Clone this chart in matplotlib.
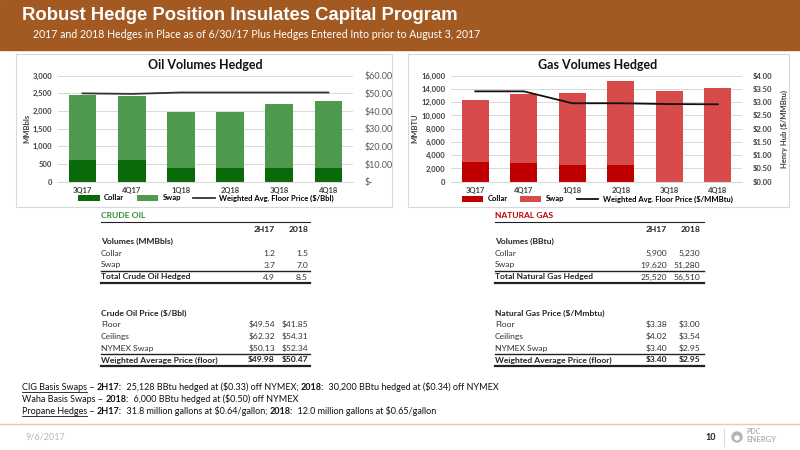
import matplotlib
matplotlib.use("Agg")
import matplotlib.pyplot as plt
from matplotlib.patches import Rectangle, Circle
from matplotlib.ticker import FuncFormatter, MultipleLocator

plt.rcParams['font.family'] = ['Lato', 'DejaVu Sans']

# ---------------- data ----------------
quarters = ['3Q17', '4Q17', '1Q18', '2Q18', '3Q18', '4Q18']
oil_collar = [610, 610, 380, 380, 380, 380]
oil_swap = [1850, 1825, 1600, 1600, 1810, 1910]
oil_floor = [50.0, 49.7, 50.5, 50.5, 50.5, 50.5]

gas_collar = [2970, 2870, 2500, 2500, 0, 0]
gas_swap = [9360, 10310, 10880, 12650, 13690, 14190]
gas_floor = [3.41, 3.41, 2.96, 2.96, 2.93, 2.92]

table_cols = ['2H17', '2018']
oil_vol_rows = ['Collar', 'Swap']
oil_vol_vals = [['1.2', '1.5'], ['3.7', '7.0']]
oil_total = ['4.9', '8.5']
oil_price_rows = ['Floor', 'Ceilings', 'NYMEX Swap']
oil_price_vals = [['$49.54', '$41.85'], ['$62.32', '$54.31'], ['$50.13', '$52.34']]
oil_wavg = ['$49.98', '$50.47']

gas_vol_rows = ['Collar', 'Swap']
gas_vol_vals = [['5,900', '5,230'], ['19,620', '51,280']]
gas_total = ['25,520', '56,510']
gas_price_rows = ['Floor', 'Ceilings', 'NYMEX Swap']
gas_price_vals = [['$3.38', '$3.00'], ['$4.02', '$3.54'], ['$3.40', '$2.95']]
gas_wavg = ['$3.40', '$2.95']

W, H = 800, 450
fig = plt.figure(figsize=(8, 4.5), dpi=100)
fig.patch.set_facecolor('white')

bg = fig.add_axes([0, 0, 1, 1], zorder=0)
bg.set_xlim(0, W)
bg.set_ylim(H, 0)
bg.axis('off')


def T(x, y, s, **kw):
    kw.setdefault('va', 'center')
    return bg.text(x, y, s, parse_math=False, **kw)


def px_axes(x0, y0, x1, y1, z=2):
    return fig.add_axes([x0 / W, 1 - y1 / H, (x1 - x0) / W, (y1 - y0) / H], zorder=z)


# ---------------- header ----------------
bg.add_patch(Rectangle((0, 0), W, 50, color='#A35A22', zorder=1))
T(22, 15, 'Robust Hedge Position Insulates Capital Program', color='white',
  fontsize=13.3, fontweight='bold', family=['Liberation Sans', 'DejaVu Sans'], zorder=3)
T(33, 34, '2017 and 2018 Hedges in Place as of 6/30/17 Plus Hedges Entered Into prior to August 3, 2017',
  color='white', fontsize=7.6, zorder=3)

# chart boxes
bg.add_patch(Rectangle((16, 54), 376, 153, fill=False, ec='#D9D9D9', lw=0.8, zorder=1))
bg.add_patch(Rectangle((408, 54), 381, 153, fill=False, ec='#D9D9D9', lw=0.8, zorder=1))


def style_chart(ax, ymax, ystep):
    ax.set_xlim(-0.5, 5.5)
    ax.set_ylim(0, ymax)
    ax.yaxis.set_major_locator(MultipleLocator(ystep))
    ax.yaxis.set_major_formatter(FuncFormatter(lambda v, p: f'{int(v):,}'))
    ax.grid(axis='y', color='#D9D9D9', lw=0.7)
    ax.set_axisbelow(True)
    for s in ax.spines.values():
        s.set_visible(False)
    ax.spines['bottom'].set_visible(True)
    ax.spines['bottom'].set_color('#D9D9D9')
    ax.tick_params(length=0, labelsize=5.5, colors='#404040', pad=4)
    for lab in ax.get_yticklabels():
        lab.set_fontweight('bold')
    ax.set_xticks(range(len(quarters)))
    ax.set_xticklabels(quarters, fontweight='bold', fontsize=5.5)
    ax.patch.set_alpha(0)


leg_kw = dict(loc='center', ncol=3, frameon=False, prop={'size': 5.5, 'weight': 'bold'},
              handlelength=2.8, handleheight=0.8, columnspacing=1.6, handletextpad=0.6)

# ---------------- oil chart ----------------
ax1 = px_axes(58, 75.7, 353, 181.7)
x = list(range(len(quarters)))
ax1.bar(x, oil_collar, width=0.56, color='#0A6A0A', label='Collar', zorder=2)
ax1.bar(x, oil_swap, width=0.56, bottom=oil_collar, color='#4E9A4E', label='Swap', zorder=2)
style_chart(ax1, 3000, 500)
ax1.set_ylabel('MMBbls', fontsize=5.5, fontweight='bold', color='#404040', labelpad=2)
ax1r = ax1.twinx()
ax1r.plot(x, oil_floor, color='#333333', lw=1.3, zorder=3,
          label='Weighted Avg. Floor Price ($/Bbl)')
ax1r.set_ylim(0, 60)
ax1r.yaxis.set_major_locator(MultipleLocator(10))
ax1r.yaxis.set_major_formatter(FuncFormatter(lambda v, p: '$-' if v == 0 else f'${v:,.2f}'))
for s in ax1r.spines.values():
    s.set_visible(False)
ax1r.tick_params(length=0, labelsize=6.5, colors='#595959', pad=8)
T(205, 65, 'Oil Volumes Hedged', ha='center', fontsize=9, fontweight='bold', color='#111111')
h1, l1 = ax1.get_legend_handles_labels()
h2, l2 = ax1r.get_legend_handles_labels()
fig.legend(h1 + h2, l1 + l2, bbox_to_anchor=(206 / W, 1 - 198 / H), **leg_kw)

# ---------------- gas chart ----------------
ax2 = px_axes(451, 75.7, 742, 181.7)
ax2.bar(x, gas_collar, width=0.56, color='#C00000', label='Collar', zorder=2)
ax2.bar(x, gas_swap, width=0.56, bottom=gas_collar, color='#D74B4B', label='Swap', zorder=2)
style_chart(ax2, 16000, 2000)
ax2.set_ylabel('MMBTU', fontsize=5.5, fontweight='bold', color='#404040', labelpad=2)
ax2r = ax2.twinx()
ax2r.plot(x, gas_floor, color='#111111', lw=1.3, zorder=3,
          label='Weighted Avg. Floor Price ($/MMBtu)')
ax2r.set_ylim(0, 4)
ax2r.yaxis.set_major_locator(MultipleLocator(0.5))
ax2r.yaxis.set_major_formatter(FuncFormatter(lambda v, p: f'${v:,.2f}'))
for s in ax2r.spines.values():
    s.set_visible(False)
ax2r.tick_params(length=0, labelsize=5.5, colors='#404040', pad=8)
for lab in ax2r.get_yticklabels():
    lab.set_fontweight('bold')
ax2r.set_ylabel('Henry Hub ($/MMBtu)', fontsize=5.5, fontweight='bold', color='#404040',
                rotation=90, labelpad=6)
T(598, 65, 'Gas Volumes Hedged', ha='center', fontsize=9, fontweight='bold', color='#111111')
h1, l1 = ax2.get_legend_handles_labels()
h2, l2 = ax2r.get_legend_handles_labels()
fig.legend(h1 + h2, l1 + l2, bbox_to_anchor=(597 / W, 1 - 199 / H), **leg_kw)


# ---------------- tables ----------------
def draw_table(x0, x1, c1, c2, title, tcolor, vol_label, vol_rows, vol_vals, total_label,
               total_vals, price_label, price_rows, price_vals, wavg_vals):
    fs = 6.1
    lc = '#222222'
    T(x0, 216, title, fontsize=6.1, fontweight='bold', color=tcolor)
    bg.plot([x0, x1], [222, 222], color=lc, lw=0.8)
    T(c1, 229, table_cols[0], ha='right', fontsize=fs, fontweight='bold', color='#222222')
    T(c2, 229, table_cols[1], ha='right', fontsize=fs, fontweight='bold', color='#222222')
    T(x0, 241, vol_label, fontsize=fs, fontweight='bold', color='#222222')
    y = 253
    for name, vals in zip(vol_rows, vol_vals):
        T(x0, y, name, fontsize=fs, color='#333333')
        T(c1, y, vals[0], ha='right', fontsize=fs, color='#333333')
        T(c2, y, vals[1], ha='right', fontsize=fs, color='#333333')
        y += 12
    bg.plot([x0, x1], [270.5, 270.5], color=lc, lw=1.0)
    T(x0, 277, total_label, fontsize=fs, fontweight='bold', color='#222222')
    T(c1, 277, total_vals[0], ha='right', fontsize=fs, color='#333333')
    T(c2, 277, total_vals[1], ha='right', fontsize=fs, color='#333333')
    bg.plot([x0, x1], [283, 283], color=lc, lw=1.6)
    T(x0, 313, price_label, fontsize=fs, fontweight='bold', color='#222222')
    y = 324.5
    for name, vals in zip(price_rows, price_vals):
        T(x0, y, name, fontsize=fs, color='#333333')
        T(c1, y, vals[0], ha='right', fontsize=fs, color='#333333')
        T(c2, y, vals[1], ha='right', fontsize=fs, color='#333333')
        y += 12
    bg.plot([x0, x1], [353.5, 353.5], color=lc, lw=1.0)
    T(x0, 360, 'Weighted Average Price (floor)', fontsize=fs, fontweight='bold', color='#222222')
    T(c1, 360, wavg_vals[0], ha='right', fontsize=fs, fontweight='bold', color='#222222')
    T(c2, 360, wavg_vals[1], ha='right', fontsize=fs, fontweight='bold', color='#222222')
    bg.plot([x0, x1], [366, 366], color=lc, lw=1.6)


draw_table(101, 310, 275, 308, 'CRUDE OIL', '#2E8B2E', 'Volumes (MMBbls)', oil_vol_rows,
           oil_vol_vals, 'Total Crude Oil Hedged', oil_total, 'Crude Oil Price ($/Bbl)',
           oil_price_rows, oil_price_vals, oil_wavg)
draw_table(495, 704, 667, 700, 'NATURAL GAS', '#C00000', 'Volumes (BBtu)', gas_vol_rows,
           gas_vol_vals, 'Total Natural Gas Hedged', gas_total, 'Natural Gas Price ($/Mmbtu)',
           gas_price_rows, gas_price_vals, gas_wavg)

# ---------------- footnotes ----------------
renderer = fig.canvas.get_renderer()
notes = [
    [('CIG Basis Swaps', 'normal', True), (' – ', 'normal', False), ('2H17:', 'bold', False),
     ('  25,128 BBtu hedged at ($0.33) off NYMEX; ', 'normal', False), ('2018:', 'bold', False),
     ('  30,200 BBtu hedged at ($0.34) off NYMEX', 'normal', False)],
    [('Waha Basis Swaps – ', 'normal', False), ('2018:', 'bold', False),
     ('  6,000 BBtu hedged at ($0.50) off NYMEX', 'normal', False)],
    [('Propane Hedges', 'normal', True), (' – ', 'normal', False), ('2H17:', 'bold', False),
     ('  31.8 million gallons at $0.64/gallon; ', 'normal', False), ('2018:', 'bold', False),
     ('  12.0 million gallons at $0.65/gallon', 'normal', False)],
]
ny = 387
for line in notes:
    xx = 22
    for s, wgt, ul in line:
        t = T(xx, ny, s, fontsize=6.5, fontweight=wgt, color='#111111')
        bb = t.get_window_extent(renderer=renderer)
        if ul:
            bg.plot([xx, xx + bb.width], [ny + 5, ny + 5], color='#111111', lw=0.6)
        xx += bb.width
    ny += 12

# ---------------- footer ----------------
bg.plot([0, W], [424, 424], color='#E9C9AA', lw=1.0)
T(25, 437, '9/6/2017', fontsize=6.5, color='#B8B8B8')
T(716, 437, '10', ha='right', fontsize=6.5, fontweight='bold', color='#222222')
bg.plot([724, 724], [428, 446], color='#DDDDDD', lw=0.8)
bg.add_patch(Circle((737, 437), 5, color='#B5B5B5'))
bg.add_patch(Circle((737, 438), 2, color='white'))
T(746, 432, 'PDC', fontsize=5, fontweight='bold', color='#B0B0B0')
T(746, 440, 'ENERGY', fontsize=5.5, fontweight='bold', color='#B0B0B0')

fig.savefig('out.png', dpi=100)
